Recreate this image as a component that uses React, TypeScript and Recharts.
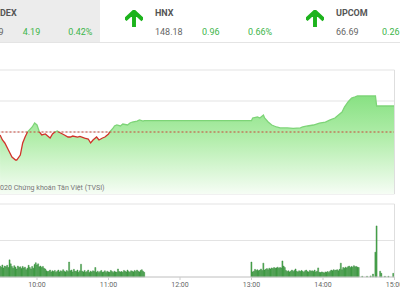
import {
  ComposedChart, Area, BarChart, Bar, XAxis, YAxis,
  CartesianGrid, ReferenceLine
} from 'recharts';

// previous close of VN-Index (dashed reference line)
const REF = 997.6;

const priceTimes = [
  '09:29', '09:31', '09:33', '09:36', '09:39', '09:42', '09:43', '09:46', '09:48', '09:50',
  '09:52', '09:56', '09:58', '10:00', '10:02', '10:04', '10:07', '10:09', '10:11', '10:13',
  '10:15', '10:17', '10:19', '10:23', '10:26', '10:28', '10:30', '10:34', '10:36', '10:40',
  '10:43', '10:45', '10:47', '10:50', '10:52', '10:55', '10:57', '11:00', '11:01', '11:04',
  '11:05', '11:07', '11:10', '11:12', '11:16', '11:18', '11:20', '11:24', '11:26', '11:29',
  '11:30', '13:00', '13:01', '13:05', '13:07', '13:10', '13:11', '13:14', '13:17', '13:21',
  '13:24', '13:30', '13:35', '13:41', '13:43', '13:47', '13:52', '13:57', '14:02', '14:06',
  '14:10', '14:13', '14:16', '14:18', '14:21', '14:24', '14:27', '14:29', '14:37', '14:44',
  '14:45', '15:00',
];
const priceValues = [
  997.12, 996.31, 995.83, 994.70, 993.57, 993.08, 993.08, 993.89, 995.83, 996.79,
  997.60, 998.41, 999.05, 998.73, 997.60, 997.12, 997.28, 996.95, 996.63, 997.28,
  997.60, 997.76, 997.52, 997.12, 996.79, 996.79, 996.95, 996.79, 996.90, 996.63,
  996.47, 995.83, 996.31, 996.79, 996.31, 996.63, 996.79, 997.28, 997.60, 998.25,
  998.57, 998.73, 998.57, 998.89, 998.73, 999.05, 999.21, 999.37, 999.54, 999.37,
  999.45, 999.45, 999.86, 1000.02, 999.86, 1000.34, 999.86, 999.21, 998.73, 998.41,
  998.25, 998.25, 998.20, 998.25, 998.41, 998.57, 998.73, 999.05, 999.21, 999.54,
  999.86, 1000.34, 1000.83, 1001.63, 1002.44, 1003.08, 1003.25, 1003.41, 1003.41, 1003.41,
  1001.79, 1001.79,
];

// volume per minute (million shares)
const volAmStart = '09:29';
const volAm = [
  3.0, 2.7, 3.3, 2.5, 3.0, 2.8, 3.2, 2.6, 4.7, 3.6,
  2.9, 2.4, 3.1, 2.7, 2.2, 3.0, 2.6, 2.8, 2.3, 2.9,
  2.5, 2.7, 2.0, 2.4, 3.2, 2.6, 2.2, 2.9, 2.4, 3.4,
  3.9, 3.3, 3.6, 2.8, 3.0, 2.6, 2.9, 2.4, 2.2, 1.7,
  1.5, 1.6, 1.9, 1.4, 1.7, 1.5, 1.8, 1.3, 1.6, 1.9,
  1.4, 1.7, 1.5, 2.0, 1.6, 1.4, 1.8, 1.5, 4.1, 1.7,
  1.9, 1.4, 2.1, 1.6, 1.5, 1.9, 1.3, 1.7, 3.5, 1.6,
  1.4, 1.8, 1.3, 1.5, 1.9, 1.2, 1.6, 1.4, 1.7, 1.5,
  2.6, 1.3, 1.6, 1.2, 1.5, 1.8, 1.3, 1.4, 1.7, 1.2,
  1.6, 1.4, 1.3, 1.8, 1.5, 1.2, 1.6, 1.4, 1.3, 2.2,
  1.5, 1.4, 1.5, 1.3, 1.8, 1.6, 1.4, 1.9, 1.5, 1.3,
  1.7, 1.6, 1.4, 1.8, 1.5, 1.9, 1.6, 1.4, 1.8, 2.0,
  1.6, 1.3,
];
const volPmStart = '13:00';
const volPm = [
  4.1, 1.4, 1.6, 2.1, 1.8, 2.0, 1.7, 1.9, 2.2, 1.8,
  3.8, 1.9, 2.1, 2.3, 2.0, 2.4, 2.2, 2.5, 2.3, 2.6,
  2.4, 2.5, 2.7, 2.4, 2.6, 2.5, 4.4, 3.0, 2.6, 1.8,
  1.5, 1.7, 1.4, 1.6, 1.9, 1.5, 1.8, 2.2, 1.6, 1.4,
  1.7, 1.5, 1.8, 1.6, 1.3, 1.7, 1.9, 1.5, 1.4, 1.8,
  1.6, 1.7, 1.5, 1.9, 1.4, 1.6, 2.5, 1.3, 1.2, 1.4,
  1.3, 1.1, 1.4, 1.3, 1.5, 1.2, 1.6, 1.9, 1.7, 2.0,
  1.8, 1.9, 2.0, 1.7, 2.1, 3.8, 2.0, 2.6, 2.4, 2.7,
  2.5, 2.8, 3.0, 2.6, 2.9, 2.7, 3.1, 2.8, 2.9, 2.7,
  2.6,
];
const volLateTimes = ['14:33', '14:37', '14:40', '14:42', '14:44', '14:45', '14:48', '14:49', '14:52', '14:55', '14:59'];
const volLate = [0.2, 0.2, 0.3, 0.8, 6.8, 14.0, 1.6, 1.0, 0.2, 0.2, 1.0];

const timeTicks = ['10:00', '11:00', '12:00', '13:00', '14:00', '15:00'];

const toMin = (s: string) => {
  const [h, m] = s.split(':').map(Number);
  return h * 60 + m;
};
const fmtMin = (m: number) => `${Math.floor(m / 60)}:${String(m % 60).padStart(2, '0')}`;

const priceData = priceTimes.map((t, i) => ({ t: toMin(t), v: priceValues[i] }));
const volData = [
  ...volAm.map((v, i) => ({ t: toMin(volAmStart) + i, v })),
  ...volPm.map((v, i) => ({ t: toMin(volPmStart) + i, v })),
  ...volLateTimes.map((t, i) => ({ t: toMin(t), v: volLate[i] })),
];

const maxV = Math.max(...priceValues);
const minV = Math.min(...priceValues);
const splitOff = (maxV - REF) / (maxV - minV);

const X_DOMAIN = [toMin('09:00'), toMin('15:00')];
const GREEN = '#3db54a';

const Arrow = ({ left }: { left: number }) => (
  <svg width={18} height={17} viewBox="4 4 16 16" preserveAspectRatio="none"
    style={{ position: 'absolute', left, top: 10 }}>
    <path d="M4 12l1.41 1.41L11 7.83V20h2V7.83l5.58 5.59L20 12l-8-8-8 8z"
      fill="#1db31d" stroke="#1db31d" strokeWidth={1.5} strokeLinejoin="miter" />
  </svg>
);

const txt = (left: number, top: number, text: string, color: string, bold = false) => (
  <div style={{
    position: 'absolute', left, top, fontSize: 9, lineHeight: '10px',
    color, fontWeight: bold ? 700 : 400, whiteSpace: 'nowrap'
  }}>{text}</div>
);

export default function App() {
  return (
    <div style={{
      position: 'fixed', left: 0, top: 0, width: 400, height: 300, overflow: 'hidden',
      background: '#fff', fontFamily: 'Roboto, sans-serif'
    }}>
      {/* header (left part of the strip is cropped in the original) */}
      <div style={{ position: 'absolute', left: 0, top: 0, width: 100, height: 42, background: '#ececec' }} />
      <div style={{ position: 'absolute', left: 0, top: 42, width: 400, height: 1, background: '#e4e4e4' }} />
      {txt(0, 8, 'DEX', '#555', true)}
      {txt(-1.5, 27, '9', '#666')}
      {txt(22.7, 27, '4.19', GREEN)}
      {txt(68.3, 27, '0.42%', GREEN)}

      <Arrow left={125} />
      {txt(155, 8, 'HNX', '#555', true)}
      {txt(155, 27, '148.18', '#666')}
      {txt(202, 27, '0.96', GREEN)}
      {txt(248, 27, '0.66%', GREEN)}

      <Arrow left={306} />
      {txt(336, 8, 'UPCOM', '#555', true)}
      {txt(336, 27, '66.69', '#666')}
      {txt(382, 27, '0.26', GREEN)}

      {/* price chart */}
      <div style={{ position: 'absolute', left: -40, top: 60 }}>
        <ComposedChart width={440} height={140} data={priceData}
          margin={{ top: 10, right: 5.5, bottom: 6, left: 5.5 }}>
          <defs>
            <linearGradient id="priceFill" x1="0" y1="0" x2="0" y2="1">
              <stop offset="0%" stopColor="#88e183" />
              <stop offset="45%" stopColor="#b4eead" />
              <stop offset="100%" stopColor="#f6fdf5" />
            </linearGradient>
            <linearGradient id="priceStroke" x1="0" y1="0" x2="0" y2="1">
              <stop offset={splitOff} stopColor="#7dd477" />
              <stop offset={splitOff} stopColor="#d1322a" />
            </linearGradient>
          </defs>
          <CartesianGrid vertical={false} stroke="#e3e3e3" />
          <XAxis dataKey="t" type="number" domain={X_DOMAIN} hide />
          <YAxis hide domain={[REF - 10, REF + 10]} ticks={[-10, -5, 0, 5, 10].map(d => REF + d)} />
          <Area type="linear" dataKey="v" fill="url(#priceFill)" fillOpacity={1}
            stroke="url(#priceStroke)" strokeWidth={1.3} dot={false} isAnimationActive={false} />
          <ReferenceLine y={REF} stroke="#c9453b" strokeDasharray="2 2" strokeWidth={1} />
          <ReferenceLine x={X_DOMAIN[1]} stroke="#dedede" />
        </ComposedChart>
      </div>
      <div style={{
        position: 'absolute', left: 0, top: 183, fontSize: 7.1, lineHeight: '9px',
        color: '#777', whiteSpace: 'nowrap'
      }}>020 Chứng khoán Tân Việt (TVSI)</div>

      {/* volume chart */}
      <div style={{ position: 'absolute', left: -40, top: 195 }}>
        <BarChart width={440} height={105} data={volData}
          margin={{ top: 9, right: 5.5, bottom: 5, left: 5.5 }}>
          <CartesianGrid vertical={false} stroke="#e3e3e3" />
          <XAxis dataKey="t" type="number" domain={X_DOMAIN} ticks={timeTicks.map(toMin)}
            tickFormatter={fmtMin} interval={0} height={18} tickSize={3}
            stroke="#cccccc" tick={{ fontSize: 7, fill: '#666', fontFamily: 'Roboto' }} />
          <YAxis hide domain={[0, 20]} ticks={[0, 10, 20]} />
          <Bar dataKey="v" fill="#4caf50" stroke="#2e7d32" strokeWidth={0.4}
            barSize={1.2} isAnimationActive={false} />
          <ReferenceLine x={X_DOMAIN[1]} stroke="#dedede" />
        </BarChart>
      </div>
    </div>
  );
}
